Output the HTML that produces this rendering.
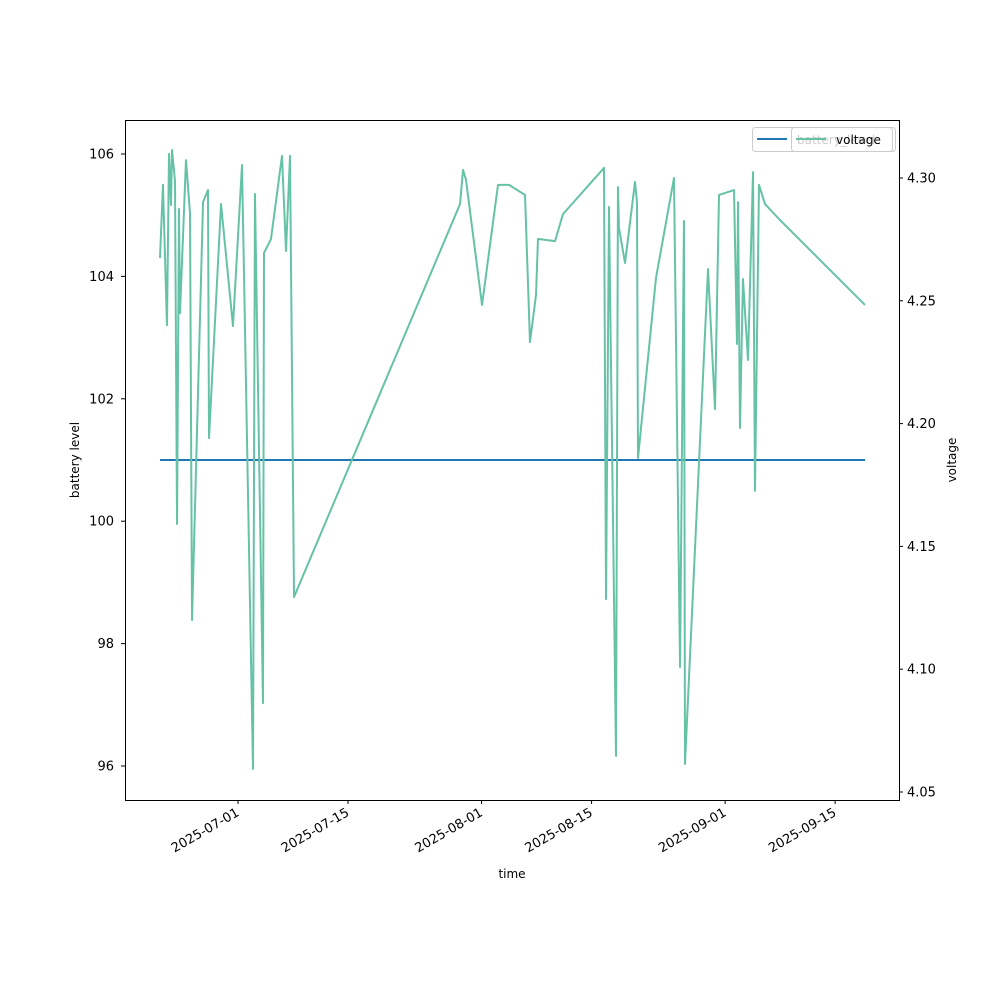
<!DOCTYPE html>
<html><head><meta charset="utf-8"><style>
body{margin:0;background:#fff}
svg text{font-family:"DejaVu Sans","Liberation Sans",sans-serif;font-size:12px;fill:#000}
svg text.tk{font-size:13px}
</style></head><body>
<svg id="chart" width="1000" height="1000" xmlns="http://www.w3.org/2000/svg">
<g id="marks"></g>
<rect x="125.5" y="120.5" width="774" height="680" fill="none" stroke="#000" stroke-width="1"/>
<g id="axes"></g>
<text x="512" y="878" text-anchor="middle">time</text>
<text transform="translate(79,460) rotate(-90)" text-anchor="middle">battery level</text>
<text transform="translate(956,460) rotate(-90)" text-anchor="middle">voltage</text>
<g>
<rect x="752.5" y="127.5" width="143" height="24" rx="3" fill="#fff" fill-opacity="0.8" stroke="#ccc"/>
<line x1="757" y1="139" x2="787" y2="139" stroke="#1f77b4" stroke-width="2"/>
<text x="797" y="144">battery_level</text>
</g>
<g>
<rect x="791.5" y="127.5" width="101" height="24" rx="3" fill="#fff" fill-opacity="0.8" stroke="#ccc"/>
<line x1="796" y1="139" x2="826" y2="139" stroke="#66c2a5" stroke-width="2"/>
<text x="836" y="144">voltage</text>
</g>
</svg>
<script>
const batteryDays=[-9.93,79.80];
const batteryValues=[101,101];
const voltDays=[-9.93,-9.55,-9.04,-8.78,-8.53,-8.40,-8.02,-7.76,-7.51,-7.38,-6.62,-6.11,-5.85,-4.45,-3.82,-3.69,-2.16,-0.64,0.51,1.91,2.16,3.18,3.31,4.20,5.60,6.11,6.62,7.13,
28.26,28.64,29.02,31.06,33.09,34.49,36.53,37.16,37.93,38.18,40.35,41.36,
46.58,46.84,47.22,48.11,48.36,48.49,49.26,50.53,50.78,50.91,53.20,55.49,56.26,56.76,56.89,59.82,60.71,61.22,63.13,63.51,63.64,63.89,64.27,64.91,65.55,65.80,66.31,67.07,68.98,79.80];
const voltValues=[4.2674,4.2972,4.2401,4.3098,4.2890,4.3114,4.2988,4.1591,4.2874,4.2450,4.3073,4.2857,4.1200,4.2902,4.2951,4.1941,4.2894,4.2397,4.3053,4.0594,4.2935,4.0862,4.2695,4.2752,4.3090,4.2703,4.3090,4.1294,
4.2894,4.3033,4.2992,4.2483,4.2972,4.2972,4.2931,4.2332,4.2524,4.2752,4.2743,4.2853,
4.3041,4.1286,4.2882,4.0647,4.2963,4.2796,4.2654,4.2984,4.2902,4.1860,4.2593,4.3000,4.1009,4.2825,4.0614,4.2629,4.2059,4.2931,4.2951,4.2324,4.2902,4.1982,4.2589,4.2259,4.3024,4.1726,4.2972,4.2894,4.2829,4.2483];
const leftTicks=[96,98,100,102,104,106];
const rightTicks=[4.05,4.10,4.15,4.20,4.25,4.30];
const xTickDays=[0,14,31,45,62,76];
const xTickLabels=["2025-07-01","2025-07-15","2025-08-01","2025-08-15","2025-09-01","2025-09-15"];

const X=d=>238+d*7.857;
const YL=v=>154+(106-v)*61.2;
const YR=v=>178+(4.30-v)*2456;
const NS="http://www.w3.org/2000/svg";
const marks=document.getElementById('marks'), axes=document.getElementById('axes');
function mk(tag,attrs,parent){const e=document.createElementNS(NS,tag);for(const k in attrs)e.setAttribute(k,attrs[k]);parent.appendChild(e);return e;}

let p=mk('polyline',{points:batteryDays.map((d,i)=>X(d)+','+YL(batteryValues[i])).join(' '),fill:'none',stroke:'#1f77b4','stroke-width':2},marks);


let q=mk('polyline',{points:voltDays.map((d,i)=>X(d)+','+YR(voltValues[i])).join(' '),fill:'none',stroke:'#66c2a5','stroke-width':2,'stroke-linejoin':'round'},marks);



leftTicks.forEach(v=>{const y=YL(v);
 const l=mk('line',{x1:121,x2:125,y1:y,y2:y,stroke:'#000'},axes);
 
 
 const t=mk('text',{x:114,y:y+4.5,'text-anchor':'end','class':'tk'},axes);t.textContent=v;
 
 });
rightTicks.forEach(v=>{const y=YR(v);
 const l=mk('line',{x1:899,x2:903,y1:y,y2:y,stroke:'#000'},axes);
 
 
 const t=mk('text',{x:907,y:y+4.5,'class':'tk'},axes);t.textContent=v.toFixed(2);
 
 });
xTickDays.forEach((d,i)=>{const x=X(d);
 const l=mk('line',{x1:x,x2:x,y1:800,y2:804,stroke:'#000'},axes);
 
 
 const t=mk('text',{transform:`translate(${x+2},${815}) rotate(-30)`,'text-anchor':'end','class':'tk'},axes);t.textContent=xTickLabels[i];
 
 });
</script>
</body></html>
